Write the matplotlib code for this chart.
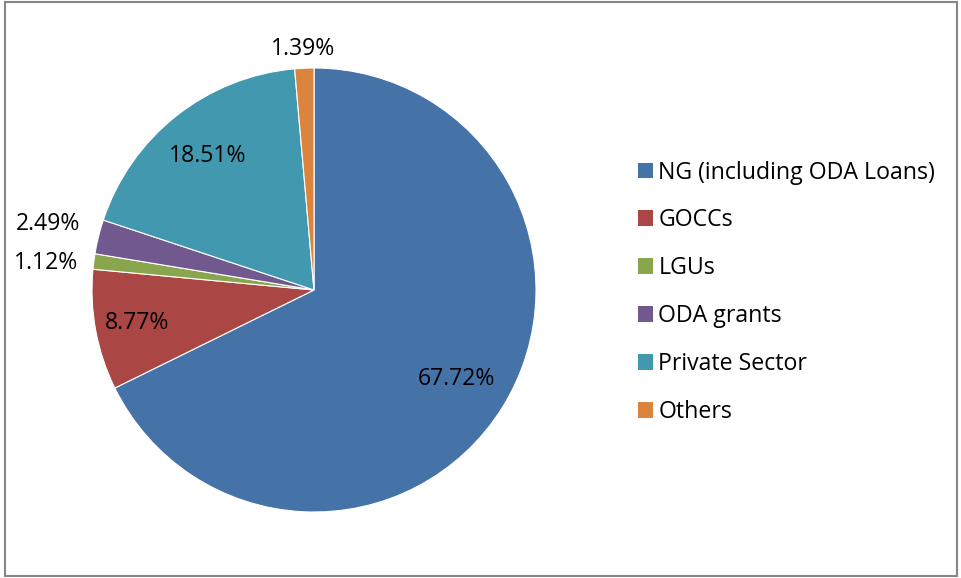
import matplotlib
matplotlib.use("Agg")
import matplotlib.pyplot as plt
from matplotlib.patches import Rectangle, Patch
import numpy as np

categories = ["NG (including ODA Loans)", "GOCCs", "LGUs", "ODA grants", "Private Sector", "Others"]
values = [67.72, 8.77, 1.12, 2.49, 18.51, 1.39]
labels = ["67.72%", "8.77%", "1.12%", "2.49%", "18.51%", "1.39%"]
colors = ["#4572A7", "#AA4643", "#89A54E", "#71588F", "#4198AF", "#DB843D"]
label_radius = [0.755, 0.81, 1.215, 1.235, 0.77, 1.085]
label_shift = [0.0, 0.0, 1.7, 0.0, 0.0, 0.0]

plt.rcParams['font.family'] = ['Open Sans', 'DejaVu Sans']

W, H = 961, 578
fig = plt.figure(figsize=(W / 100, H / 100), dpi=100)
fig.patch.set_facecolor("white")

cx, cy, r = 314, 290, 222
ax = fig.add_axes([(cx - r) / W, (H - cy - r) / H, 2 * r / W, 2 * r / H])
wedges, _ = ax.pie(values, colors=colors, startangle=90, counterclock=False,
                   radius=1.0, wedgeprops=dict(edgecolor="white", linewidth=0.8))
ax.set_xlim(-1, 1)
ax.set_ylim(-1, 1)
ax.set_aspect("equal")
ax.axis("off")

for w, lab, rr, sh in zip(wedges, labels, label_radius, label_shift):
    ang = np.deg2rad((w.theta1 + w.theta2) / 2 + sh)
    ax.text(rr * np.cos(ang), rr * np.sin(ang), lab, ha="center", va="center",
            fontsize=16.6, color="black", clip_on=False)

handles = [Patch(facecolor=c, edgecolor="none") for c in colors]
fig.legend(handles, categories, loc="upper left", bbox_to_anchor=(626 / W, 1 - 149 / H),
           frameon=False, fontsize=16.7, handlelength=0.68, handleheight=0.68,
           handletextpad=0.22, labelspacing=1.03, borderpad=0)

fig.add_artist(Rectangle((5 / W, 2 / H), 952 / W, 574 / H, transform=fig.transFigure,
                         fill=False, edgecolor="#868686", linewidth=1.5))

fig.savefig("out.png", dpi=100)
